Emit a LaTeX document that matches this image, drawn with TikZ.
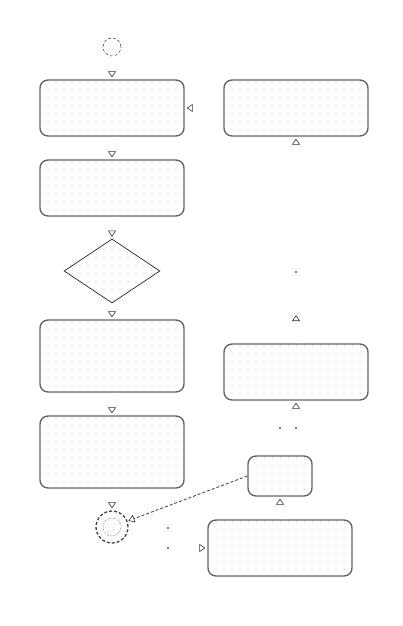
\documentclass[tikz,border=0pt]{standalone}
\usetikzlibrary{arrows.meta, positioning, shapes.geometric, patterns.meta}

\tikzset{
  action/.style={draw=black!60, line width=1.4pt, rounded corners=8pt,
    pattern={Dots[distance=8pt, radius=0.5pt]}, pattern color=black!45,
    minimum width=144pt, minimum height=56pt, inner sep=0pt},
  choice/.style={diamond, aspect=1.5, draw=black!85, line width=0.7pt,
    pattern={Dots[distance=8pt, radius=0.5pt]}, pattern color=black!45,
    minimum width=96pt, minimum height=64pt, inner sep=0pt},
  initial node/.style={circle, draw=black!65, densely dashed, line width=0.6pt,
    minimum size=18pt, inner sep=0pt},
  final node/.style={circle, draw=black!75, densely dashed, line width=1.3pt,
    pattern={Dots[distance=6pt, radius=0.45pt]}, pattern color=black!45,
    minimum size=32pt, inner sep=0pt},
  flow/.style={draw=white, shorten >=2pt,
    -{Triangle[open, length=6pt, width=8pt, color=black!80, line width=0.6pt]}},
  dot/.style={circle, fill=black, inner sep=0pt, minimum size=1.6pt},
}

\begin{document}
\begin{tikzpicture}[x=1pt, y=-1pt, on grid]
  \useasboundingbox (0,0) rectangle (403,626);

  % left column
  \node[initial node] (start) at (112,47) {};
  \node[action] (prep) at (112,108) {};
  \node[action, below=80pt of prep] (check) {};
  \node[choice, below=83pt of check] (branch) {};
  \node[action, minimum height=72pt, below=85pt of branch] (work) {};
  \node[action, minimum height=72pt, below=96pt of work] (finish) {};
  \node[final node, below=75pt of finish] (stop) {};
  \draw[black!50, densely dotted, line width=0.6pt] (stop.center) circle (9pt);

  % right column
  \node[action, right=184pt of prep] (notify) {};
  \node[action, below=264pt of notify] (review) {};
  \node[action, minimum width=64pt, minimum height=40pt] (sign) at (280,476) {};
  \node[action, below=72pt of sign] (archive) {};

  % loose ends
  \coordinate (t1) at (296,313);

  \path[flow] (start) -- (prep);
  \path[flow] (prep) -- (check);
  \path[flow] (check) -- (branch);
  \path[flow] (branch) -- (work);
  \path[flow] (work) -- (finish);
  \path[flow] (finish) -- (stop);
  \path[flow] (notify.west) -- (prep.east);
  \path[flow] (296,272) -- (notify.south);
  \path[flow] (review.north) -- (t1);
  \path[flow] (296,428) -- (review.south);
  \path[flow] (archive.north) -- (sign.south);
  \path[flow] (168,548) -- (archive.west);

  \node[dot] (d1) at (296,272) {};
  \node[dot] (d2) at (296,428) {};
  \node[dot] (d3) at (280,428) {};
  \node[dot] (d4) at (168,528) {};
  \node[dot] (d5) at (168,548) {};

  \draw[black!70, densely dashed, line width=0.9pt, shorten >=1pt,
    -{Triangle[open, length=6pt, width=8pt, color=black!80, line width=0.6pt]}]
    (sign.west) -- (stop);
\end{tikzpicture}
\end{document}
